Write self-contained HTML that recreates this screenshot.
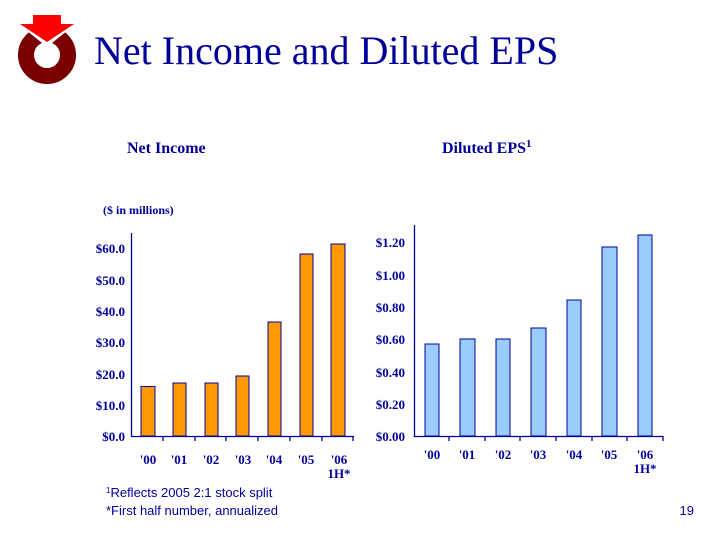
<!DOCTYPE html>
<html><head><style>
body{margin:0;width:720px;height:540px;background:#fff;overflow:hidden;position:relative;font-family:"Liberation Serif",serif}
</style></head><body>
<svg width="720" height="540" style="position:absolute;left:0;top:0" font-family="Liberation Serif, serif">
<!-- logo -->
<circle cx="47" cy="55" r="21" fill="none" stroke="#7a0000" stroke-width="16"/>
<polygon points="16,22 78,22 47,47" fill="#fff"/>
<rect x="33" y="15" width="28" height="10" fill="#ff0000"/>
<polygon points="20,24 74,24 47,42" fill="#ff0000"/>
<text x="94" y="64" font-size="40" fill="#000099">Net Income and Diluted EPS</text>
<g font-weight="bold" fill="#000099">
<text x="127" y="153" font-size="16">Net Income</text>
<text x="442" y="153" font-size="16">Diluted EPS<tspan font-size="11" dy="-6">1</tspan></text>
<text x="103" y="214" font-size="12">($ in millions)</text>
</g>
<!-- left chart -->
<g fill="#ff9900" stroke="#000099" stroke-width="1">
<rect x="141" y="386.5" width="14" height="49.5"/>
<rect x="173" y="383" width="13" height="53"/>
<rect x="205" y="383" width="13" height="53"/>
<rect x="236" y="376" width="13" height="60"/>
<rect x="268" y="322" width="13" height="114"/>
<rect x="300" y="254" width="13" height="182"/>
<rect x="331" y="244" width="14" height="192"/>
</g>
<g stroke="#000099" stroke-width="1.3" fill="none">
<path d="M131.5 233V436.5H354"/>
<path d="M163 436v5M195 436v5M226 436v5M258 436v5M290 436v5M322 436v5M353 436v5"/>
</g>
<g font-size="13" font-weight="bold" fill="#000099" text-anchor="end">
<text x="125" y="441">$0.0</text><text x="125" y="410">$10.0</text><text x="125" y="379">$20.0</text>
<text x="125" y="347">$30.0</text><text x="125" y="316">$40.0</text><text x="125" y="285">$50.0</text><text x="125" y="253">$60.0</text>
</g>
<g font-size="13" font-weight="bold" fill="#000099" text-anchor="middle">
<text x="148" y="464">'00</text><text x="179" y="464">'01</text><text x="211" y="464">'02</text><text x="243" y="464">'03</text>
<text x="274" y="464">'04</text><text x="306" y="464">'05</text><text x="339" y="464">'06</text><text x="339" y="478">1H*</text>
</g>
<!-- right chart -->
<g fill="#99ccff" stroke="#000099" stroke-width="1">
<rect x="425" y="344" width="14" height="92"/>
<rect x="460" y="339" width="15" height="97"/>
<rect x="496" y="339" width="14" height="97"/>
<rect x="531" y="328" width="15" height="108"/>
<rect x="567" y="300" width="14" height="136"/>
<rect x="602" y="247" width="15" height="189"/>
<rect x="638" y="235" width="14" height="201"/>
</g>
<g stroke="#000099" stroke-width="1.3" fill="none">
<path d="M414.5 225V436.5H663"/>
<path d="M449 436v5M485 436v5M520 436v5M556 436v5M592 436v5M627 436v5M663 436v5"/>
</g>
<g font-size="13" font-weight="bold" fill="#000099" text-anchor="end">
<text x="405" y="441">$0.00</text><text x="405" y="409">$0.20</text><text x="405" y="377">$0.40</text>
<text x="405" y="344">$0.60</text><text x="405" y="312">$0.80</text><text x="405" y="280">$1.00</text><text x="405" y="247">$1.20</text>
</g>
<g font-size="13" font-weight="bold" fill="#000099" text-anchor="middle">
<text x="432" y="459">'00</text><text x="467" y="459">'01</text><text x="503" y="459">'02</text><text x="538" y="459">'03</text>
<text x="574" y="459">'04</text><text x="609" y="459">'05</text><text x="645" y="459">'06</text><text x="645" y="473">1H*</text>
</g>
<g font-size="13" fill="#000099" font-family="Liberation Sans, sans-serif">
<text x="106" y="497"><tspan font-size="8" dy="-4">1</tspan><tspan dy="4">Reflects 2005 2:1 stock split</tspan></text>
<text x="106" y="515">*First half number, annualized</text>
</g>
<text x="694" y="515" font-size="13" fill="#000099" text-anchor="end" font-family="Liberation Sans, sans-serif">19</text>
</svg>
</body></html>
